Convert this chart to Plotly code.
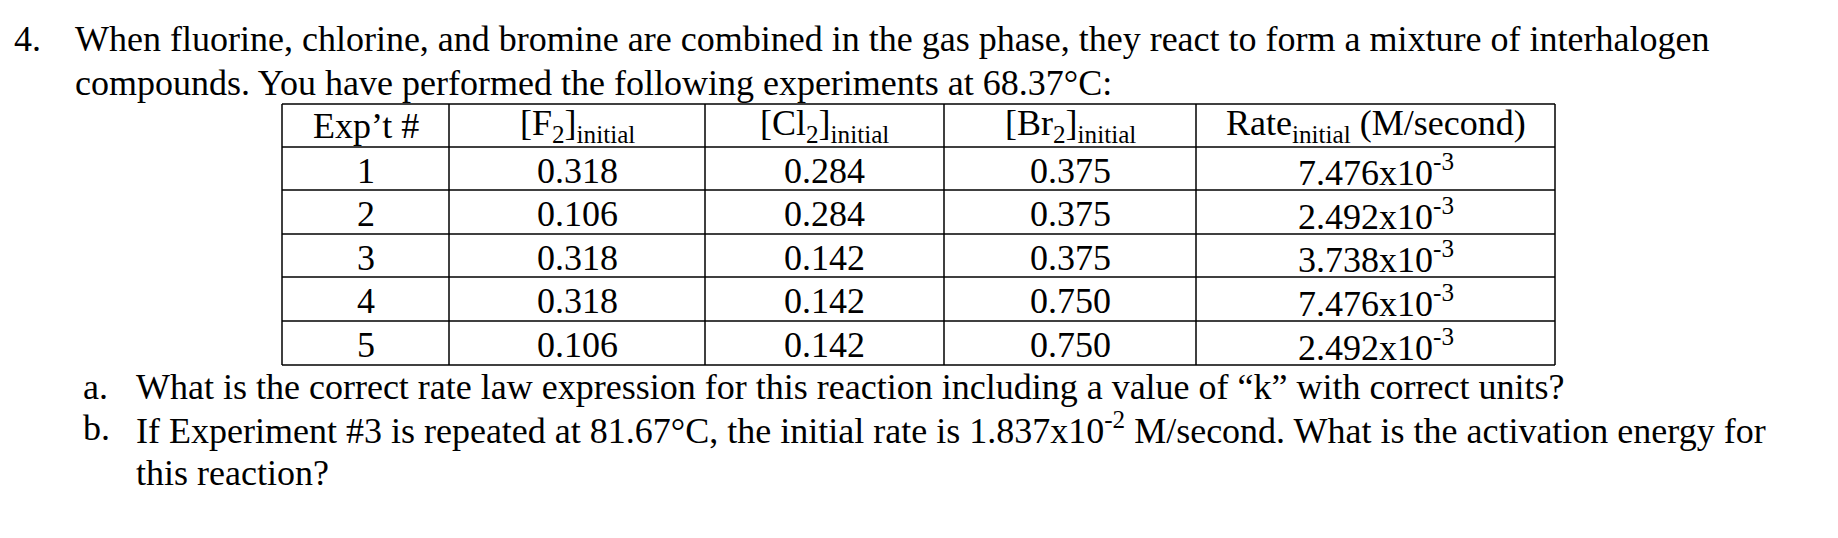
import plotly.graph_objects as go

W, H = 1838, 538
headers = ["Exp’t #", "[F<sub>2</sub>]<sub>initial</sub>", "[Cl<sub>2</sub>]<sub>initial</sub>",
           "[Br<sub>2</sub>]<sub>initial</sub>", "Rate<sub>initial</sub> (M/second)"]
exp_no = ["1", "2", "3", "4", "5"]
f2 = ["0.318", "0.106", "0.318", "0.318", "0.106"]
cl2 = ["0.284", "0.284", "0.142", "0.142", "0.142"]
br2 = ["0.375", "0.375", "0.375", "0.750", "0.750"]
rate = ["7.476x10<sup>-3</sup>", "2.492x10<sup>-3</sup>", "3.738x10<sup>-3</sup>",
        "7.476x10<sup>-3</sup>", "2.492x10<sup>-3</sup>"]

col_x = [274, 441, 697, 936, 1188, 1547]
row_y = [96, 139, 182, 226, 269, 313, 357]
FONT = "Liberation Serif"
FS = 36

fig = go.Figure()
fig.add_trace(go.Scatter(x=[0, W], y=[0, H], mode="markers", marker=dict(opacity=0), hoverinfo="skip", showlegend=False))

shapes = []
for y in row_y:
    shapes.append(dict(type="line", x0=col_x[0], x1=col_x[-1], y0=y, y1=y, line=dict(color="black", width=1.5)))
for x in col_x:
    shapes.append(dict(type="line", x0=x, x1=x, y0=row_y[0], y1=row_y[-1], line=dict(color="black", width=1.5)))

ann = []
def txt(x, y, s, anchor="left"):
    ann.append(dict(x=x, y=y, text=s, showarrow=False, xanchor=anchor, yanchor="middle",
                    font=dict(family=FONT, size=FS, color="black")))

txt(4, 31, "4.")
txt(65, 31, "When fluorine, chlorine, and bromine are combined in the gas phase, they react to form a mixture of interhalogen")
txt(65, 75, "compounds. You have performed the following experiments at 68.37°C:")

cols = [exp_no, f2, cl2, br2, rate]
for c in range(5):
    cx = (col_x[c] + col_x[c + 1]) / 2
    txt(cx, (row_y[0] + row_y[1]) / 2, headers[c], "center")
    for r in range(5):
        txt(cx, (row_y[r + 1] + row_y[r + 2]) / 2 + 2, cols[c][r], "center")

txt(73, 379, "a.")
txt(126, 379, "What is the correct rate law expression for this reaction including a value of “k” with correct units?")
txt(73, 420, "b.")
txt(126, 420, "If Experiment #3 is repeated at 81.67°C, the initial rate is 1.837x10<sup>-2</sup> M/second. What is the activation energy for")
txt(126, 465, "this reaction?")

fig.update_layout(width=W, height=H, margin=dict(l=0, r=0, t=0, b=0),
                  paper_bgcolor="white", plot_bgcolor="white",
                  xaxis=dict(range=[0, W], visible=False, fixedrange=True),
                  yaxis=dict(range=[H, 0], visible=False, fixedrange=True),
                  shapes=shapes, annotations=ann)
fig.write_html("out.html", config={"displayModeBar": False})
